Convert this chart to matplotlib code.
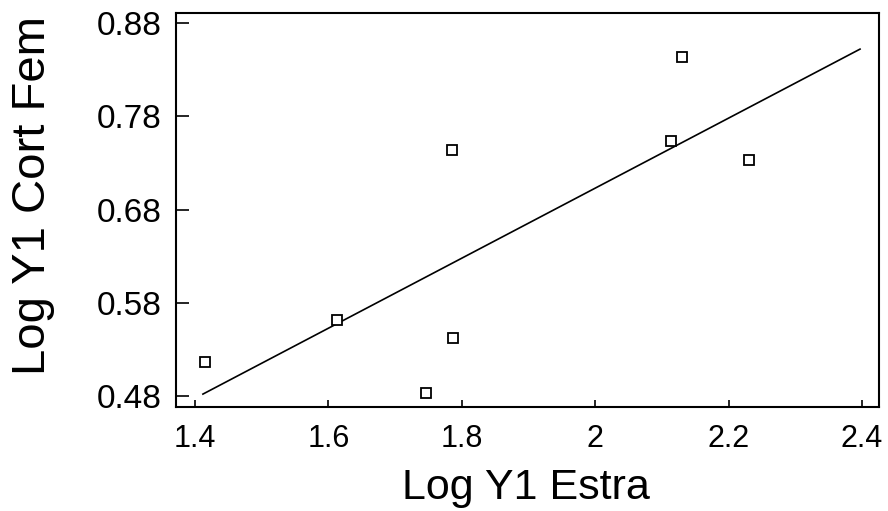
import numpy as np
import matplotlib
matplotlib.use("Agg")
import matplotlib.pyplot as plt

plt.rcParams['font.family'] = ['Liberation Sans', 'DejaVu Sans']

# log-transformed measurements
log_estra = [1.415, 1.6135, 1.747, 1.7865, 1.785, 2.113, 2.130, 2.230]
log_cort_fem = [0.5165, 0.5615, 0.483, 0.542, 0.744, 0.7535, 0.8435, 0.733]

# fitted regression line
fit_slope = 0.3756
fit_intercept = -0.0483
fit_range = [1.412, 2.397]

x_ticks = [1.4, 1.6, 1.8, 2.0, 2.2, 2.4]
x_tick_labels = ['1.4', '1.6', '1.8', '2', '2.2', '2.4']
y_ticks = [0.48, 0.58, 0.68, 0.78, 0.88]
y_tick_labels = ['0.48', '0.58', '0.68', '0.78', '0.88']

fig = plt.figure(figsize=(8.88, 5.11), dpi=100)
ax = fig.add_axes([0.198, 0.2035, 0.792, 0.771])

fx = np.array(fit_range)
ax.plot(fx, fit_intercept + fit_slope * fx, color='black', lw=1.2)
ax.plot(log_estra, log_cort_fem, linestyle='none', marker='s', markersize=6.5,
        markerfacecolor='white', markeredgecolor='black', markeredgewidth=1.3)

ax.set_xlim(1.3714, 2.4256)
ax.set_ylim(0.4682, 0.8907)
ax.set_xticks(x_ticks)
ax.set_xticklabels(x_tick_labels, fontsize=22)
ax.set_yticks(y_ticks)
ax.set_yticklabels(y_tick_labels, fontsize=24)
ax.tick_params(axis='x', direction='in', length=5, width=1.2, pad=12)
ax.tick_params(axis='y', direction='in', length=9, width=1.2, pad=10)
for s in ax.spines.values():
    s.set_linewidth(1.5)

ax.set_xlabel('Log Y1 Estra', fontsize=31)
ax.xaxis.set_label_coords(0.498, -0.155)
ax.set_ylabel('Log Y1 Cort Fem', fontsize=34)
ax.yaxis.set_label_coords(-0.172, 0.536)

fig.savefig('out.png', dpi=100)
